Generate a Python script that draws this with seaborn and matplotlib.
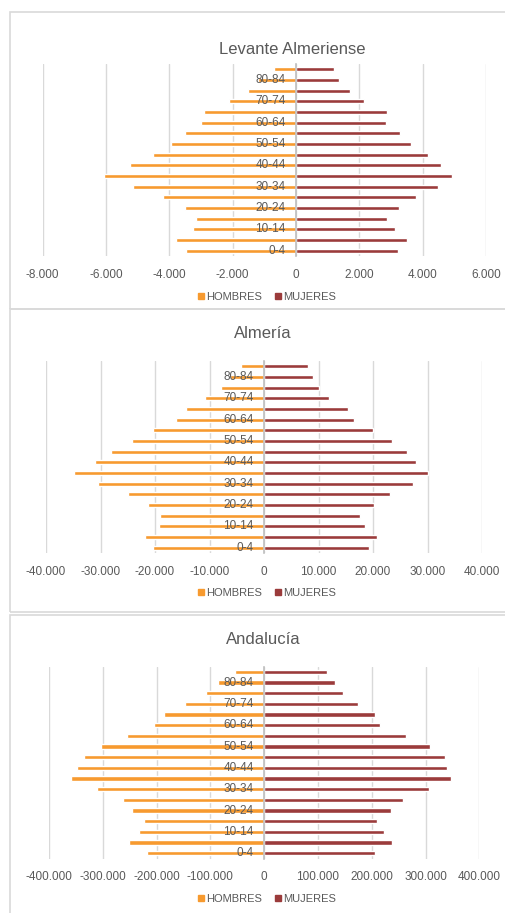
import numpy as np
import pandas as pd
import matplotlib
matplotlib.use("Agg")
import matplotlib.pyplot as plt
import seaborn as sns
from matplotlib.patches import Rectangle
from matplotlib.lines import Line2D
from matplotlib.ticker import FuncFormatter

# ---------- data (age groups from bottom to top) ----------
ages = ["0-4", "5-9", "10-14", "15-19", "20-24", "25-29", "30-34", "35-39", "40-44",
        "45-49", "50-54", "55-59", "60-64", "65-69", "70-74", "75-79", "80-84", "85+"]
sexes = ["HOMBRES", "MUJERES"]

levante_hombres = [3460, 3780, 3250, 3170, 3500, 4210, 5140, 6070, 5240,
                   4520, 3950, 3500, 3000, 2910, 2120, 1510, 1200, 700]
levante_mujeres = [3230, 3500, 3120, 2880, 3250, 3800, 4490, 4920, 4570,
                   4180, 3630, 3270, 2830, 2860, 2160, 1710, 1370, 1210]

almeria_hombres = [20350, 21800, 19250, 19000, 21200, 24900, 30500, 34800, 31000,
                   28000, 24300, 20400, 16200, 14400, 10800, 7800, 6200, 4200]
almeria_mujeres = [19300, 20800, 18600, 17700, 20100, 23200, 27400, 30100, 27800,
                   26200, 23500, 20000, 16600, 15500, 12000, 10000, 8900, 8000]

andalucia_hombres = [218000, 251000, 232000, 223000, 246000, 263000, 311000, 359000, 348000,
                     335000, 304000, 255000, 204000, 186000, 148000, 108000, 85000, 55000]
andalucia_mujeres = [207000, 238000, 222000, 210000, 235000, 258000, 306000, 347000, 340000,
                     336000, 308000, 264000, 216000, 206000, 175000, 147000, 131000, 116000]

colors = {"HOMBRES": "#F79A2F", "MUJERES": "#9B3B3B"}
text_color = "#595959"
grid_color = "#D9D9D9"

W, H = 505, 913

sns.set_style("white")
plt.rcParams["font.family"] = ["Liberation Sans", "DejaVu Sans"]

fig = plt.figure(figsize=(W / 100, H / 100), dpi=100)
fig.patch.set_facecolor("white")


def px_rect(left, top, right, bottom):
    return [left / W, 1 - bottom / H, (right - left) / W, (bottom - top) / H]


def thousands(v, pos):
    return f"{int(round(v)):,}".replace(",", ".")


# title, values, x limits, tick step, plot area (px), title pos, legend y
panels = [
    ("Levante Almeriense", levante_hombres, levante_mujeres, (-8000, 6000), 2000,
     (42.7, 64, 486, 256), (292, 49), 297),
    ("Almería", almeria_hombres, almeria_mujeres, (-40000, 40000), 10000,
     (46, 361, 482, 553), (263, 333), 593),
    ("Andalucía", andalucia_hombres, andalucia_mujeres, (-400000, 400000), 100000,
     (49, 666.5, 479.3, 858.5), (263, 639), 899),
]

# chart frames
for top, bottom in [(12, 309), (309, 612), (615, 930)]:
    fig.add_artist(Rectangle((10 / W, 1 - bottom / H), (W + 20) / W, (bottom - top) / H,
                             transform=fig.transFigure, fill=False,
                             edgecolor=grid_color, linewidth=1.2))

for title, hombres, mujeres, xlim, step, area, tpos, ly in panels:
    df = pd.DataFrame({
        "edad": ages * 2,
        "sexo": ["HOMBRES"] * len(ages) + ["MUJERES"] * len(ages),
        "poblacion": list(-np.array(hombres)) + list(mujeres),
    })
    ax = fig.add_axes(px_rect(*area))
    sns.barplot(data=df, x="poblacion", y="edad", hue="sexo", order=ages[::-1],
                hue_order=sexes, palette=colors, dodge=False, orient="h",
                width=0.4, saturation=1, ax=ax, legend=False)
    ax.set_xlim(*xlim)
    ax.set_ylim(len(ages) - 0.5, -0.5)
    ax.set_xticks(np.arange(xlim[0], xlim[1] + 1, step))
    ax.xaxis.set_major_formatter(FuncFormatter(thousands))
    ax.grid(axis="x", color=grid_color, linewidth=1)
    ax.set_axisbelow(True)
    for s in ["top", "right", "bottom"]:
        ax.spines[s].set_visible(False)
    ax.spines["left"].set_position(("data", 0))
    ax.spines["left"].set_color("#BFBFBF")
    ax.spines["left"].set_linewidth(1.2)
    ax.spines["left"].set_zorder(3)
    ax.set_yticks([])
    # category labels drawn above the bars, every other group
    for i, a in enumerate(ages[::-1]):
        if ages.index(a) % 2 == 0:
            ax.annotate(a, xy=(0, i), xytext=(-7.5, 0), textcoords="offset points",
                        ha="right", va="center", fontsize=8.5, color=text_color, zorder=5)
    ax.tick_params(axis="x", length=0, pad=9, labelsize=8.5, labelcolor=text_color)
    ax.set_xlabel("")
    ax.set_ylabel("")
    ax.patch.set_alpha(0)

    fig.text(tpos[0] / W, 1 - tpos[1] / H, title, ha="center", va="center",
             fontsize=12, color=text_color)

    handles = [Line2D([], [], marker="s", linestyle="none", markersize=5,
                      color=colors[s]) for s in sexes]
    fig.legend(handles, sexes, loc="center", bbox_to_anchor=(266 / W, 1 - ly / H),
               ncol=2, frameon=False, fontsize=8, labelcolor=text_color,
               handletextpad=0.1, columnspacing=1.0, handlelength=0.8)

fig.savefig("out.png", dpi=100)
